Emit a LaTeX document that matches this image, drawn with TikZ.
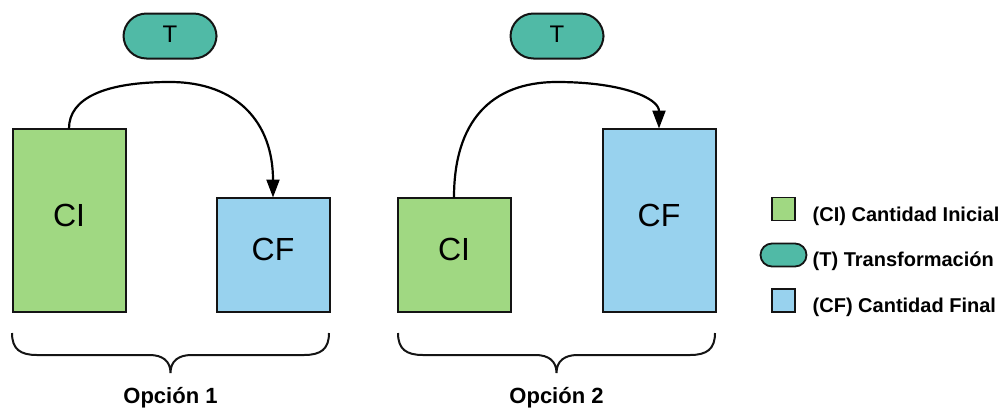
\documentclass[tikz,border=0pt]{standalone}
\usepackage{fontspec}
\setmainfont{Liberation Sans}
\usetikzlibrary{arrows.meta}

\definecolor{qgreen}{RGB}{160,216,130}
\definecolor{qblue}{RGB}{152,210,238}
\definecolor{qteal}{RGB}{80,186,166}
\definecolor{qline}{RGB}{20,20,20}

\begin{document}
\begin{tikzpicture}[x=1pt,y=-1pt,
  qbox/.style={draw=qline, line width=2pt, outer sep=0pt, inner sep=0pt,
    minimum width=113pt, font=\fontsize{32}{38}\selectfont, text depth=10pt},
  tpill/.style={draw=qline, fill=qteal, line width=2pt, rounded corners=23pt,
    minimum width=93pt, minimum height=45pt, inner sep=0pt,
    font=\fontsize{24}{28}\selectfont, text depth=4pt},
  conn/.style={draw=black, line width=2.2pt, -{Triangle[length=18pt,width=13pt]}},
  bracestyle/.style={draw=qline, line width=2pt},
  optlabel/.style={anchor=base, inner sep=0pt, font=\bfseries\fontsize{22}{26}\selectfont},
  legbox/.style={draw=qline, line width=1.8pt, inner sep=0pt,
    minimum width=23pt, minimum height=23pt},
  legpill/.style={draw=qline, fill=qteal, line width=1.8pt, rounded corners=11.5pt,
    inner sep=0pt, minimum width=46pt, minimum height=23pt},
  legtext/.style={anchor=base west, inner sep=0pt, font=\bfseries\fontsize{20}{24}\selectfont}
]
\useasboundingbox (0,0) rectangle (1003,408);

% ---- Option 1: large initial amount, small final amount
\node[tpill] (t1) at (170,36) {T};
\node[qbox, fill=qgreen, minimum height=183pt] (ci1) at (69,220) {CI};
\node[qbox, fill=qblue, minimum height=114pt] (cf1) at (273,254.5) {CF};
\coordinate (p1) at (170,82);
\draw[conn] (ci1.north) .. controls +(0,-30) and +(-66,0) .. (p1)
  .. controls +(67,0) and +(0,-75) .. (cf1.north);

% ---- Option 2: small initial amount, large final amount
\node[tpill] (t2) at (557,36) {T};
\node[qbox, fill=qgreen, minimum height=114pt] (ci2) at (454,254.5) {CI};
\node[qbox, fill=qblue, minimum height=183pt] (cf2) at (659,220) {CF};
\coordinate (p2) at (557,82);
\draw[conn] (ci2.north) .. controls +(0,-75) and +(-67,0) .. (p2)
  .. controls +(66,0) and +(0,-30) .. (cf2.north);

% ---- curly braces under each option
\foreach \a/\b/\m in {12/329/170.5, 398/715/556.5} {
  \draw[bracestyle] (\a,333) .. controls (\a,349) and (\a+8,355) .. (\a+25,355)
    -- (\m-21,355) .. controls (\m-8,355) and (\m,361) .. (\m,373)
    .. controls (\m,361) and (\m+8,355) .. (\m+21,355)
    -- (\b-25,355) .. controls (\b-8,355) and (\b,349) .. (\b,333);
}
\node[optlabel] (o1) at (170.5,403) {Opción 1};
\node[optlabel] (o2) at (556.5,403) {Opción 2};

% ---- legend
\node[legbox, fill=qgreen] (lg1) at (783.5,209) {};
\node[legpill] (lg2) at (783.5,255) {};
\node[legbox, fill=qblue] (lg3) at (783.5,300.5) {};
\node[legtext] (lt1) at (812.5,221) {(CI) Cantidad Inicial};
\node[legtext] (lt2) at (812.5,266) {(T) Transformación};
\node[legtext] (lt3) at (812.5,312) {(CF) Cantidad Final};
\end{tikzpicture}
\end{document}
